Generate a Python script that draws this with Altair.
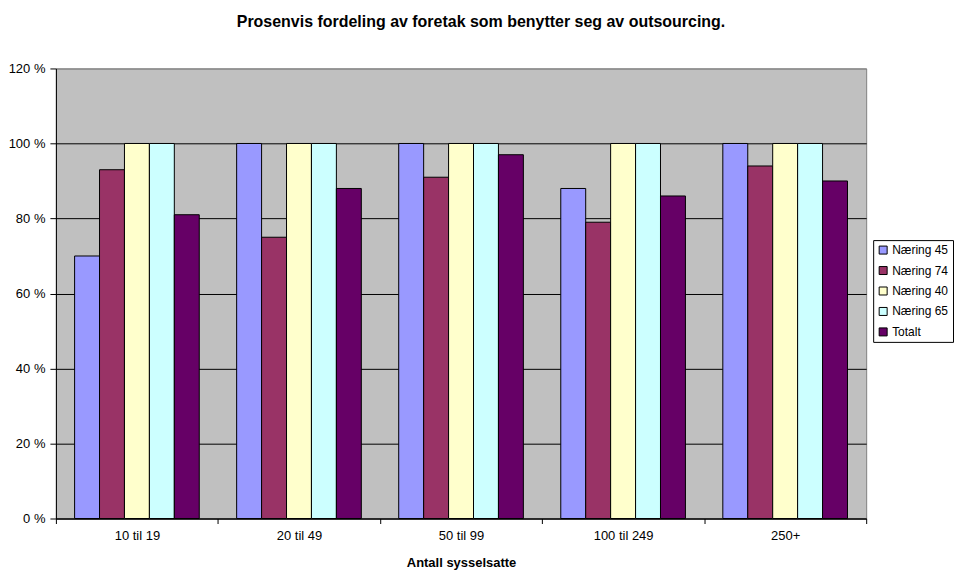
import altair as alt
import pandas as pd

categories = ["10 til 19", "20 til 49", "50 til 99", "100 til 249", "250+"]
series = ["Næring 45", "Næring 74", "Næring 40", "Næring 65", "Totalt"]
naering45 = [70, 100, 100, 88, 100]
naering74 = [93, 75, 91, 79, 94]
naering40 = [100, 100, 100, 100, 100]
naering65 = [100, 100, 100, 100, 100]
totalt = [81, 88, 97, 86, 90]
colors = ["#9999FF", "#993366", "#FFFFCC", "#CCFFFF", "#660066"]
y_ticks = [0, 20, 40, 60, 80, 100, 120]

rows = []
for s, vals in zip(series, [naering45, naering74, naering40, naering65, totalt]):
    for c, v in zip(categories, vals):
        rows.append({"Antall": c, "Serie": s, "Verdi": v})
df = pd.DataFrame(rows)

FONT = "Arial, Liberation Sans"

chart = alt.Chart(df).mark_bar(stroke="black", strokeWidth=1).encode(
    x=alt.X(
        "Antall:N",
        sort=categories,
        scale=alt.Scale(paddingInner=0, paddingOuter=0),
        axis=alt.Axis(
            title="Antall sysselsatte",
            labelAngle=0,
            tickBand="extent",
            tickSize=5,
            labelPadding=6,
            titlePadding=14,
        ),
    ),
    xOffset=alt.XOffset(
        "Serie:N", sort=series, scale=alt.Scale(paddingOuter=0.75, paddingInner=0)
    ),
    y=alt.Y(
        "Verdi:Q",
        scale=alt.Scale(domain=[0, 120], nice=False),
        axis=alt.Axis(
            values=y_ticks,
            labelExpr="datum.value + ' %'",
            title=None,
            tickSize=6,
            labelPadding=5,
            gridColor=alt.condition("datum.value == 120", alt.value("#808080"), alt.value("black")),
        ),
    ),
    color=alt.Color(
        "Serie:N",
        sort=series,
        scale=alt.Scale(domain=series, range=colors),
        legend=alt.Legend(
            title=None,
            orient="none",
            legendX=819,
            legendY=172,
            fillColor="white",
            strokeColor="black",
            padding=4,
            symbolType="square",
            symbolSize=64,
            symbolStrokeColor="black",
            symbolStrokeWidth=1,
            labelFontSize=12,
            labelFont=FONT,
            labelColor="black",
            labelOffset=3,
            rowPadding=8.5,
        ),
    ),
).properties(
    width=812,
    height=451,
    padding={"left": 0, "top": 5, "right": 0, "bottom": 0},
    title=alt.TitleParams(
        "Prosenvis fordeling av foretak som benytter seg av outsourcing.",
        fontSize=16,
        font=FONT,
        fontWeight="bold",
        color="black",
        anchor="middle",
        dx=20,
        offset=33,
    ),
).configure_view(
    fill="#C0C0C0", stroke="#808080", strokeWidth=1
).configure_axis(
    labelFont=FONT,
    labelFontSize=13,
    labelColor="black",
    titleFont=FONT,
    titleFontSize=13,
    titleFontWeight="bold",
    titleColor="black",
    domainColor="black",
    tickColor="black",
    grid=True,
    gridWidth=1,
).configure_axisX(grid=False)

chart.save("out.html", embed_options={"renderer": "svg", "actions": False})
